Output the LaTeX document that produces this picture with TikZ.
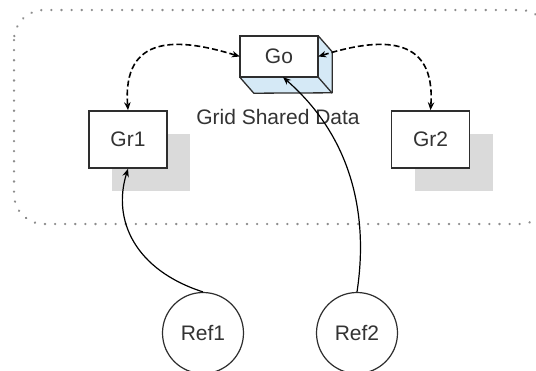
\documentclass[tikz,border=0pt]{standalone}
\usepackage{fontspec}
\setmainfont{Liberation Sans}
\usetikzlibrary{arrows.meta,shadows,calc}

\definecolor{edge}{HTML}{2E2E2E}
\definecolor{ink}{HTML}{333333}
\definecolor{iceblue}{HTML}{D5E9F6}
\definecolor{shadowgray}{HTML}{DADADA}
\definecolor{dotgray}{HTML}{8C8C8C}

\tikzset{
  every node/.style={font=\fontsize{21}{25}\selectfont, text=ink},
  gridbox/.style={draw=edge, line width=1.6pt, fill=white,
    minimum width=78pt, minimum height=57pt, inner sep=0pt,
    drop shadow={shadow xshift=23pt, shadow yshift=-23pt,
                 fill=shadowgray, opacity=1}},
  frontbox/.style={fill=white,
    minimum width=78pt, minimum height=41pt, inner sep=0pt},
  face/.style={fill=iceblue, draw=edge, line width=1.3pt, line join=round},
  refnode/.style={circle, draw=edge, line width=1.2pt, fill=white,
    minimum size=81pt, inner sep=0pt},
  tip/.style={-{Stealth[length=8pt,width=6.5pt]}},
  link/.style={tip, draw=black, line width=1.2pt},
  sharelink/.style={{Stealth[length=8pt,width=6.5pt]}-{Stealth[length=8pt,width=6.5pt]},
    draw=black, line width=1.6pt, dash pattern=on 6pt off 3pt},
  region/.style={draw=dotgray, line width=2.5pt, line cap=round,
    dash pattern=on 0.1pt off 10pt, rounded corners=30pt}
}

\begin{document}
\begin{tikzpicture}[x=1pt, y=-1pt]
  \useasboundingbox (0,0) rectangle (536,370);

  % dotted region holding the grid data
  \draw[region] (14,10) rectangle (550,224);

  % the shared data block, drawn as a box with depth
  \node[frontbox] (go) at (279,56.5) {Go};
  \draw[face] (go.north east) -- ++(14,16) -- ++(0,41) -- ($(go.south west)+(14,16)$)
              -- (go.south west) -- (go.south east) -- cycle;
  \draw[edge, line width=1.3pt] (go.south east) -- ++(14,16);
  \draw[edge, line width=1.6pt] (go.north west) rectangle (go.south east);
  \node (label) at (278,117) {Grid Shared Data};

  % grid nodes
  \node[gridbox] (gr1) at (128,139.5) {Gr1};
  \node[gridbox] (gr2) at (430.5,139.5) {Gr2};

  % references
  \node[refnode] (ref1) at (203,333) {Ref1};
  \node[refnode] (ref2) at (357,333) {Ref2};

  % sharing between the grid nodes and the data block
  \draw[sharelink] (go.west) .. controls (180,38) and (122,33) .. (gr1.north);
  \draw[sharelink] (go.east) .. controls (378,38) and (436,33) .. (gr2.north);

  % references pointing to their targets
  \draw[link] (ref1.north) .. controls (135,270) and (112,220) .. (gr1.south);
  \draw[link] (ref2.north) .. controls (368,220) and (355,140) .. ([xshift=4pt]go.south);
\end{tikzpicture}
\end{document}
